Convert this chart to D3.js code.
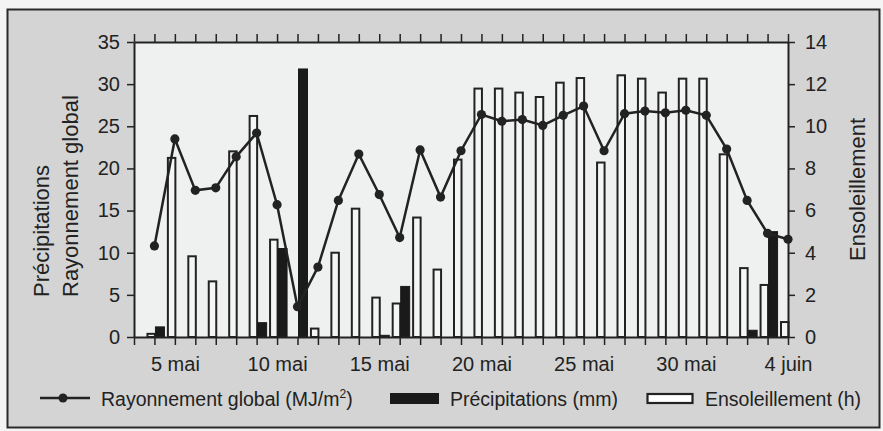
<!DOCTYPE html>
<html>
<head>
<meta charset="utf-8">
<script src="https://cdn.jsdelivr.net/npm/d3@7"></script>
<style>
  body { margin: 0; background: #f4f4f4; overflow: hidden; }
  text { font-family: 'Liberation Sans', Arial, sans-serif; fill: #222; }
</style>
</head>
<body>
<script>
const axisDays = ['3 mai', '4 mai', '5 mai', '6 mai', '7 mai', '8 mai', '9 mai', '10 mai', '11 mai', '12 mai',
    '13 mai', '14 mai', '15 mai', '16 mai', '17 mai', '18 mai', '19 mai', '20 mai', '21 mai', '22 mai',
    '23 mai', '24 mai', '25 mai', '26 mai', '27 mai', '28 mai', '29 mai', '30 mai', '31 mai',
    '1 juin', '2 juin', '3 juin', '4 juin']
const days = axisDays.slice(1)
const tickLabels = ['5 mai', '10 mai', '15 mai', '20 mai', '25 mai', '30 mai', '4 juin']

// MJ/m2
const radiation = [10.8, 23.5, 17.4, 17.7, 21.4, 24.2, 15.7, 3.6, 8.3, 16.2, 21.7, 16.9, 11.8, 22.2, 16.6, 22.1,
    26.4, 25.6, 25.8, 25.1, 26.3, 27.4, 22.1, 26.5, 26.8, 26.6, 26.9, 26.3, 22.3, 16.2, 12.3, 11.6]
// mm
const precipitation = [1.2, 0, 0, 0, 0, 1.7, 10.5, 31.8, 0, 0, 0, 0.2, 6.0, 0, 0, 0,
    0, 0, 0, 0, 0, 0, 0, 0, 0, 0, 0, 0, 0, 0.8, 12.5, 0]
// h
const sunshine = [0.15, 8.5, 3.83, 2.64, 8.81, 10.49, 4.62, 0, 0.4, 4.0, 6.09, 1.87, 1.59, 5.67, 3.2, 8.42,
    11.79, 11.79, 11.6, 11.39, 12.07, 12.29, 8.28, 12.42, 12.26, 11.6, 12.26, 12.26, 8.67, 3.27, 2.47, 0.71]

const leftTicks = [0, 5, 10, 15, 20, 25, 30, 35]
const rightTicks = [0, 2, 4, 6, 8, 10, 12, 14]

const width = 883
const height = 431
const plot = { left: 134, right: 788, top: 42, bottom: 337 }
const ink = '#222'

const svg = d3.select('body').append('svg')
    .attr('width', width)
    .attr('height', height)

svg.append('rect')
    .attr('x', 7.5).attr('y', 9.5)
    .attr('width', 872).attr('height', 418)
    .attr('fill', '#d3d4d3')
    .attr('stroke', '#2a2a2a')
    .attr('stroke-width', 2)

svg.append('rect')
    .attr('x', plot.left).attr('y', plot.top)
    .attr('width', plot.right - plot.left).attr('height', plot.bottom - plot.top)
    .attr('fill', '#eff1f0')

const x = d3.scalePoint().domain(axisDays).range([plot.left, plot.right])
const yL = d3.scaleLinear().domain([0, 35]).range([plot.bottom, plot.top])
const yR = d3.scaleLinear().domain([0, 14]).range([plot.bottom, plot.top])

const rows = days.map((d, i) => ({ day: d, rad: radiation[i], rain: precipitation[i], sun: sunshine[i] }))

// sunshine bars (white, left of the day tick)
svg.append('g').selectAll('rect')
    .data(rows.filter(d => d.sun > 0))
    .enter().append('rect')
    .attr('x', d => x(d.day) - 7)
    .attr('y', d => yR(d.sun))
    .attr('width', 7.5)
    .attr('height', d => yR(0) - yR(d.sun))
    .attr('fill', '#f4f5f4')
    .attr('stroke', ink)
    .attr('stroke-width', 2)

// precipitation bars (black, right of the day tick)
svg.append('g').selectAll('rect')
    .data(rows.filter(d => d.rain > 0))
    .enter().append('rect')
    .attr('x', d => x(d.day) + 1)
    .attr('y', d => yL(d.rain))
    .attr('width', 9)
    .attr('height', d => yL(0) - yL(d.rain))
    .attr('fill', '#1a1a1a')
    .attr('stroke', '#1a1a1a')
    .attr('stroke-width', 1)

const line = d3.line().x(d => x(d.day)).y(d => yL(d.rad))

svg.append('path')
    .datum(rows)
    .attr('d', line)
    .attr('fill', 'none')
    .attr('stroke', ink)
    .attr('stroke-width', 2.5)

svg.append('g').selectAll('circle')
    .data(rows)
    .enter().append('circle')
    .attr('cx', d => x(d.day))
    .attr('cy', d => yL(d.rad))
    .attr('r', 4.6)
    .attr('fill', ink)

// axes
const styleAxis = g => {
    g.selectAll('path').attr('stroke', ink).attr('stroke-width', 2)
    g.selectAll('line').attr('stroke', ink).attr('stroke-width', 1.5)
    g.selectAll('text').style('font-size', '20px').attr('fill', ink)
}

svg.append('g')
    .attr('transform', `translate(0,${plot.bottom})`)
    .call(d3.axisBottom(x).tickSize(8).tickSizeOuter(0).tickPadding(12)
        .tickFormat(d => tickLabels.includes(d) ? d : ''))
    .call(styleAxis)

svg.append('g')
    .attr('transform', `translate(0,${plot.top})`)
    .call(d3.axisTop(x).tickSize(8).tickSizeOuter(0).tickFormat(''))
    .call(styleAxis)

svg.append('g')
    .attr('transform', `translate(${plot.left},0)`)
    .call(d3.axisLeft(yL).tickValues(leftTicks).tickSize(7).tickSizeOuter(0).tickPadding(7))
    .call(styleAxis)

svg.append('g')
    .attr('transform', `translate(${plot.right},0)`)
    .call(d3.axisRight(yR).tickValues(rightTicks).tickSize(7).tickSizeOuter(0).tickPadding(10))
    .call(styleAxis)

// axis titles
const leftTitle = svg.append('text')
    .attr('transform', 'translate(0,297) rotate(-90)')
    .style('font-size', '22px')
leftTitle.append('tspan').attr('x', 0).attr('y', 49).text('Précipitations')
leftTitle.append('tspan').attr('x', 0).attr('y', 78).text('Rayonnement global')

svg.append('text')
    .attr('transform', `translate(865,${(plot.top + plot.bottom) / 2}) rotate(-90)`)
    .attr('text-anchor', 'middle')
    .style('font-size', '22px')
    .text('Ensoleillement')

// legend
const legend = svg.append('g').attr('transform', 'translate(0,398)')

legend.append('line')
    .attr('x1', 40).attr('x2', 90)
    .attr('stroke', ink).attr('stroke-width', 2.5)
legend.append('circle').attr('cx', 63).attr('r', 4.5).attr('fill', ink)
const radLabel = legend.append('text').attr('x', 101).attr('y', 8).style('font-size', '19.5px')
radLabel.append('tspan').text('Rayonnement global (MJ/m')
radLabel.append('tspan').attr('dy', -8).style('font-size', '12px').text('2')
radLabel.append('tspan').attr('dy', 8).text(')')

legend.append('rect')
    .attr('x', 390).attr('y', -5).attr('width', 49).attr('height', 11)
    .attr('fill', '#1a1a1a')
legend.append('text').attr('x', 450).attr('y', 8).style('font-size', '19.5px').text('Précipitations (mm)')

legend.append('rect')
    .attr('x', 647.5).attr('y', -4).attr('width', 45).attr('height', 9)
    .attr('fill', '#fff')
    .attr('stroke', ink).attr('stroke-width', 2.2)
legend.append('text').attr('x', 705).attr('y', 8).style('font-size', '19.5px').text('Ensoleillement (h)')
</script>
</body>
</html>
